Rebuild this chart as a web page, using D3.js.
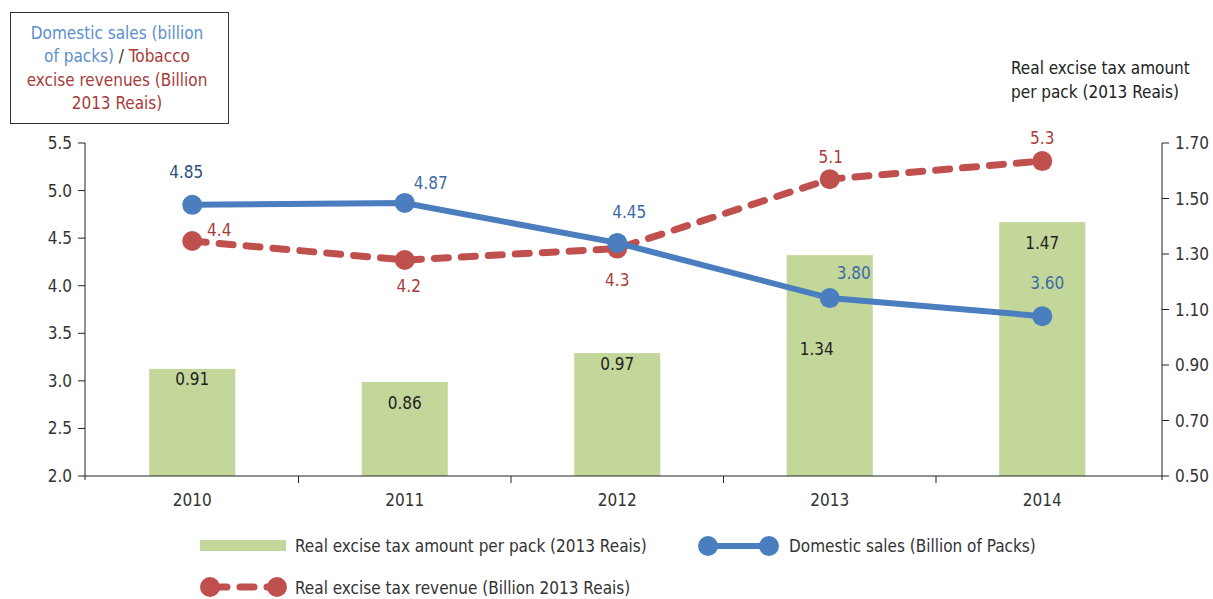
<!DOCTYPE html>
<html>
<head>
<meta charset="utf-8">
<script src="https://cdn.jsdelivr.net/npm/d3@7"></script>
<style>
  body { margin: 0; background: #fff; }
  text { font-family: "Liberation Sans Narrow", "DejaVu Sans Condensed", "Roboto", sans-serif; }
</style>
</head>
<body>
<script>
// data
const years = ["2010", "2011", "2012", "2013", "2014"]
const taxPerPack = [0.886, 0.839, 0.943, 1.296, 1.415]
const taxPerPackLabels = ["0.91", "0.86", "0.97", "1.34", "1.47"]
const sales = [4.85, 4.87, 4.45, 3.87, 3.68]
const salesLabels = ["4.85", "4.87", "4.45", "3.80", "3.60"]
const revenue = [4.47, 4.27, 4.39, 5.12, 5.31]
const revenueLabels = ["4.4", "4.2", "4.3", "5.1", "5.3"]
const leftTicks = [2.0, 2.5, 3.0, 3.5, 4.0, 4.5, 5.0, 5.5]
const rightTicks = [0.5, 0.7, 0.9, 1.1, 1.3, 1.5, 1.7]

const W = 1213, H = 599
const plotL = 85, plotR = 1162, plotT = 143, plotB = 476

const blue = "#4a7ebf", red = "#c0504d", green = "#c4d79b"

const svg = d3.select("body").append("svg")
    .attr("width", W).attr("height", H)

// the categories don't fill the whole span up to the right axis
const x = d3.scaleBand().domain(years).range([plotL + 1, plotL + 1 + 5 * 212.5])
const yL = d3.scaleLinear().domain([2.0, 5.5]).range([plotB, plotT])
const yR = d3.scaleLinear().domain([0.5, 1.7]).range([plotB, plotT])

// bars
const barW = x.bandwidth() * 0.405
svg.selectAll(".bar")
    .data(years)
    .enter()
    .append("rect")
        .attr("x", d => x(d) + x.bandwidth() / 2 - barW / 2)
        .attr("y", (d, i) => yR(taxPerPack[i]))
        .attr("width", barW)
        .attr("height", (d, i) => plotB - yR(taxPerPack[i]))
        .attr("fill", green)

// axes
const axisColor = "#222"
svg.append("line").attr("x1", plotL).attr("x2", plotR).attr("y1", plotB).attr("y2", plotB).attr("stroke", axisColor)
svg.append("line").attr("x1", plotL).attr("x2", plotL).attr("y1", plotT).attr("y2", plotB + 4).attr("stroke", axisColor)
svg.append("line").attr("x1", plotR).attr("x2", plotR).attr("y1", plotT).attr("y2", plotB + 4).attr("stroke", axisColor)

leftTicks.forEach(t => {
    svg.append("line").attr("x1", plotL - 7).attr("x2", plotL).attr("y1", yL(t)).attr("y2", yL(t)).attr("stroke", axisColor)
    svg.append("text").attr("x", plotL - 13).attr("y", yL(t) + 6)
        .attr("text-anchor", "end").attr("font-size", 17).attr("fill", "#333")
        .text(t.toFixed(1))
})
rightTicks.forEach(t => {
    svg.append("line").attr("x1", plotR).attr("x2", plotR + 7).attr("y1", yR(t)).attr("y2", yR(t)).attr("stroke", axisColor)
    svg.append("text").attr("x", plotR + 13).attr("y", yR(t) + 6)
        .attr("font-size", 17).attr("fill", "#333")
        .text(t.toFixed(2))
})
// category ticks between bands
years.slice(1).forEach(d => {
    svg.append("line").attr("x1", x(d)).attr("x2", x(d)).attr("y1", plotB).attr("y2", plotB + 7).attr("stroke", axisColor)
})
svg.selectAll(".xlab")
    .data(years)
    .enter()
    .append("text")
        .attr("x", d => x(d) + x.bandwidth() / 2)
        .attr("y", plotB + 30)
        .attr("text-anchor", "middle").attr("font-size", 17).attr("fill", "#333")
        .text(d => d)

// bar labels (offset below bar top so they dodge the lines)
const barLabelDy = [16, 27, 17, 100, 27]
svg.selectAll(".blab")
    .data(years)
    .enter()
    .append("text")
        .attr("x", (d, i) => x(d) + x.bandwidth() / 2 + (i == 3 ? -13 : 0))
        .attr("y", (d, i) => yR(taxPerPack[i]) + barLabelDy[i])
        .attr("text-anchor", "middle").attr("font-size", 17).attr("fill", "#222")
        .text((d, i) => taxPerPackLabels[i])

const cx = d => x(d) + x.bandwidth() / 2

// revenue line (dashed)
let lineR = d3.line().x((d, i) => cx(years[i])).y(d => yL(d))
svg.append("path")
    .attr("d", lineR(revenue))
    .attr("fill", "none").attr("stroke", red).attr("stroke-width", 7)
    .attr("stroke-dasharray", "14 13").attr("stroke-linecap", "round")
svg.selectAll(".rdot")
    .data(revenue)
    .enter()
    .append("circle")
        .attr("cx", (d, i) => cx(years[i])).attr("cy", d => yL(d))
        .attr("r", 10).attr("fill", red)

// sales line
let lineB = d3.line().x((d, i) => cx(years[i])).y(d => yL(d))
svg.append("path")
    .attr("d", lineB(sales))
    .attr("fill", "none").attr("stroke", blue).attr("stroke-width", 6)
svg.selectAll(".bdot")
    .data(sales)
    .enter()
    .append("circle")
        .attr("cx", (d, i) => cx(years[i])).attr("cy", d => yL(d))
        .attr("r", 10).attr("fill", blue)

// point labels
const salesOff = [[-6, -27], [26, -14], [12, -25], [24, -19], [5, -27]]
svg.selectAll(".slab")
    .data(sales)
    .enter()
    .append("text")
        .attr("x", (d, i) => cx(years[i]) + salesOff[i][0])
        .attr("y", (d, i) => yL(d) + salesOff[i][1])
        .attr("text-anchor", "middle").attr("font-size", 17)
        .attr("fill", (d, i) => i == 0 ? "#2f507a" : "#3d6aa3")
        .text((d, i) => salesLabels[i])
const revOff = [[27, -5], [4, 32], [0, 37], [1, -16], [0, -17]]
svg.selectAll(".rlab")
    .data(revenue)
    .enter()
    .append("text")
        .attr("x", (d, i) => cx(years[i]) + revOff[i][0])
        .attr("y", (d, i) => yL(d) + revOff[i][1])
        .attr("text-anchor", "middle").attr("font-size", 17).attr("fill", "#a83c3a")
        .text((d, i) => revenueLabels[i])

// left title box
svg.append("rect").attr("x", 10.5).attr("y", 12.5).attr("width", 218).attr("height", 111)
    .attr("fill", "none").attr("stroke", "#333")
const tb = svg.append("text").attr("text-anchor", "middle").attr("font-size", 17)
tb.append("tspan").attr("x", 117).attr("y", 39).attr("fill", "#5b8fcc").text("Domestic sales (billion")
const l2 = tb.append("tspan").attr("x", 117).attr("y", 62)
l2.append("tspan").attr("fill", "#5b8fcc").text("of packs) ")
l2.append("tspan").attr("fill", "#333").text("/ ")
l2.append("tspan").attr("fill", "#a83c3a").text("Tobacco")
tb.append("tspan").attr("x", 117).attr("y", 86).attr("fill", "#a83c3a").text("excise revenues (Billion")
tb.append("tspan").attr("x", 117).attr("y", 109).attr("fill", "#a83c3a").text("2013 Reais)")

// right title
const rt = svg.append("text").attr("font-size", 17).attr("fill", "#222")
rt.append("tspan").attr("x", 1011).attr("y", 74).text("Real excise tax amount")
rt.append("tspan").attr("x", 1011).attr("y", 98).text("per pack (2013 Reais)")

// legend
svg.append("rect").attr("x", 200).attr("y", 540).attr("width", 86).attr("height", 11).attr("fill", green)
svg.append("text").attr("x", 295).attr("y", 552).attr("font-size", 17).attr("fill", "#333")
    .text("Real excise tax amount per pack (2013 Reais)")

svg.append("line").attr("x1", 708).attr("x2", 769).attr("y1", 546).attr("y2", 546)
    .attr("stroke", blue).attr("stroke-width", 6)
;[708, 769].forEach(px => svg.append("circle").attr("cx", px).attr("cy", 546).attr("r", 10).attr("fill", blue))
svg.append("text").attr("x", 789).attr("y", 552).attr("font-size", 17).attr("fill", "#333")
    .text("Domestic sales (Billion of Packs)")

svg.append("line").attr("x1", 213).attr("x2", 275).attr("y1", 587).attr("y2", 587)
    .attr("stroke", red).attr("stroke-width", 7)
    .attr("stroke-dasharray", "14 13").attr("stroke-linecap", "round")
;[210, 277].forEach(px => svg.append("circle").attr("cx", px).attr("cy", 587).attr("r", 10).attr("fill", red))
svg.append("text").attr("x", 295).attr("y", 594).attr("font-size", 17).attr("fill", "#333")
    .text("Real excise tax revenue (Billion 2013 Reais)")
</script>
</body>
</html>
